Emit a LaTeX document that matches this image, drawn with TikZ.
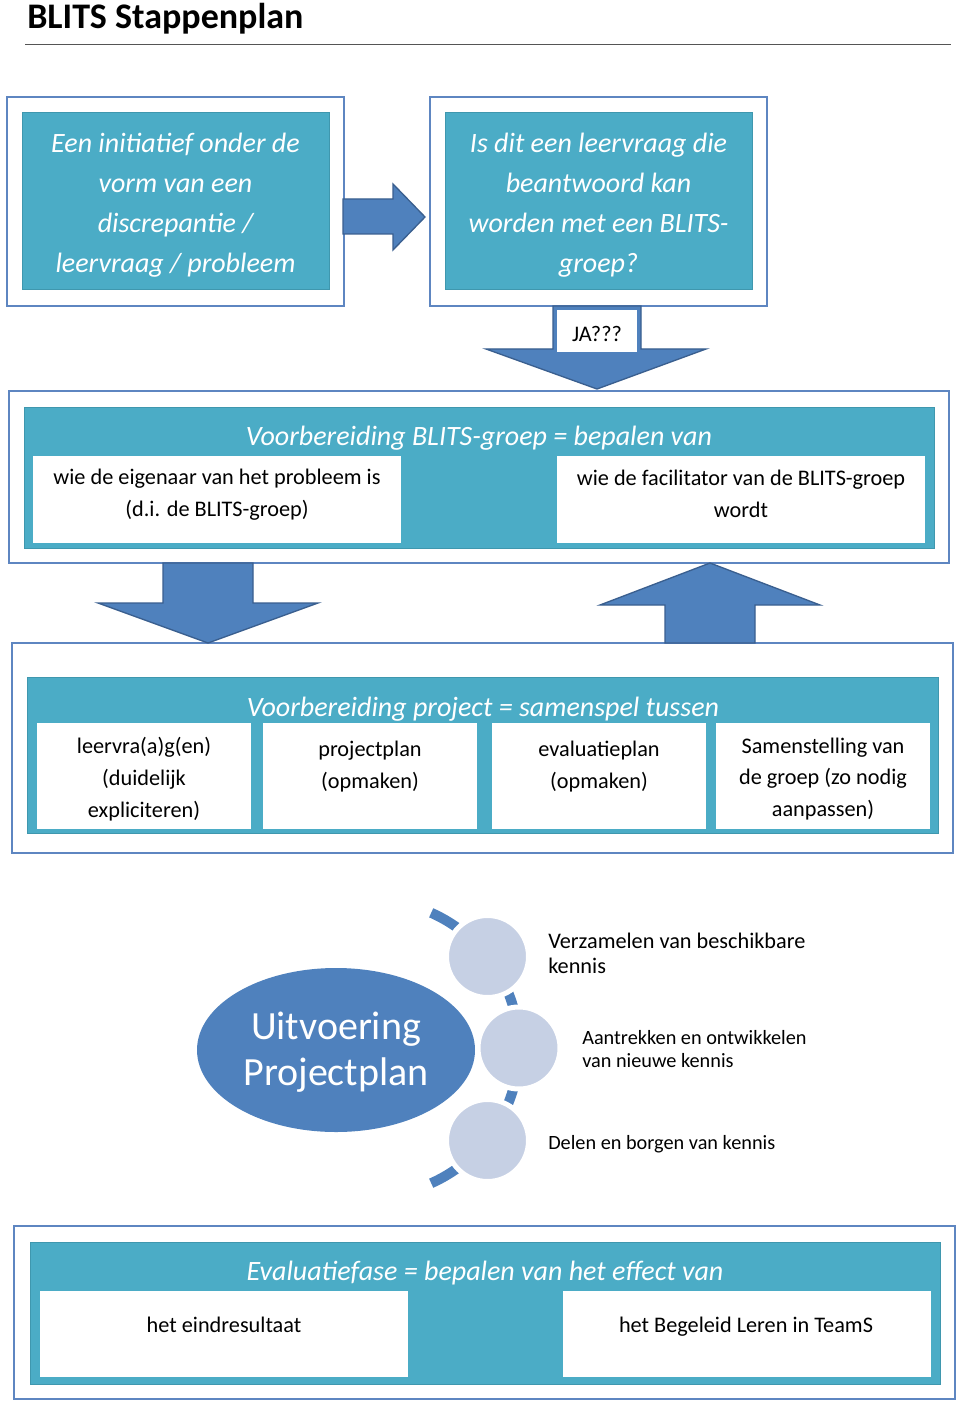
\documentclass[tikz,border=0pt]{standalone}
\usepackage{fontspec}
\setmainfont{Carlito}
\usetikzlibrary{shapes.geometric}
\definecolor{tealc}{HTML}{4BACC6}
\definecolor{tealedge}{HTML}{3F97AE}
\definecolor{frameblue}{HTML}{5E86C1}
\definecolor{arrowblue}{HTML}{4F81BD}
\definecolor{arrowedge}{HTML}{3A5F8F}
\definecolor{circfill}{HTML}{C6D0E4}
\definecolor{rulegray}{HTML}{555555}
\newcommand\rbox[6]{\node[#6, inner sep=0pt, minimum width={(#4-#2)*0.75pt}, minimum height={(#5-#3)*0.75pt}] (#1) at ({(#2+#4)/2},{(#3+#5)/2}) {};}
\begin{document}
\begin{tikzpicture}[x=0.75pt,y=-0.75pt,
  frame/.style={draw=frameblue, line width=1.5pt, fill=white},
  tealbox/.style={fill=tealc, draw=tealedge, line width=0.75pt},
  wbox/.style={fill=white, draw=none},
  bigit/.style={text=white, font=\itshape\fontsize{21}{30}\selectfont, align=center, inner sep=0pt},
  boxtxt/.style={text=black, font=\fontsize{16.7}{23.8}\selectfont, align=center, inner sep=0pt},
  sidetxt/.style={text=black, anchor=west, align=left, inner sep=0pt},
  blockarrow/.style={fill=arrowblue, draw=arrowedge, line width=1pt, line join=miter},
  circ/.style={circle, fill=circfill, draw=white, line width=3.75pt, minimum size=61.5pt, inner sep=0pt},
  arcline/.style={draw=arrowblue, line width=7.5pt, line cap=butt}]
\useasboundingbox (0,0) rectangle (960,1408);
\fill[white] (0,0) rectangle (960,1408);

% title
\node[anchor=west, inner sep=0pt, font=\bfseries\fontsize{27}{32}\selectfont] (title) at (27,18.5) {BLITS Stappenplan};
\coordinate (ruleL) at (25,45);
\coordinate (ruleR) at (951,45);
\draw[rulegray, line width=0.75pt] (ruleL) -- (ruleR);

% top row
\rbox{f1}{7}{97}{344}{306}{frame}
\rbox{t1}{22}{113}{329}{290}{tealbox}
\rbox{f2}{430}{97}{767}{306}{frame}
\rbox{t2}{445}{113}{752}{290}{tealbox}
\node[bigit] (q1) at (175.5,205) {Een initiatief onder de\\vorm van een\\discrepantie /\\leervraag / probleem};
\node[bigit] (q2) at (598.5,205) {Is dit een leervraag die\\beantwoord kan\\worden met een BLITS-\\groep?};

% right arrow
\draw[blockarrow] (343,199) -- (393,199) -- (393,184) -- (425,217) -- (393,250) -- (393,234) -- (343,234) -- cycle;

% section 2
\rbox{f3}{9}{391}{949}{563}{frame}
\rbox{t3}{24}{407}{934}{548}{tealbox}
\node[bigit] (h3) at (479,438) {Voorbereiding BLITS-groep = bepalen van};
\rbox{w31}{33}{456}{401}{543}{wbox}
\rbox{w32}{557}{456}{925}{543}{wbox}
\node[boxtxt] (x31) at (217,495) {wie de eigenaar van het probleem is\\(d.i. de BLITS-groep)};
\node[boxtxt] (x32) at (741,493.5) {wie de facilitator van de BLITS-groep\\wordt};

% JA arrow
\draw[blockarrow] (553,306) -- (641,306) -- (641,349) -- (706,349) -- (597,389) -- (486,349) -- (553,349) -- cycle;
\rbox{ja}{557}{310}{637}{352}{wbox}
\node[boxtxt] (jat) at (597,334) {JA???};

% section 3
\rbox{f4}{12}{643}{953}{853}{frame}
\rbox{t4}{27}{677}{938}{833}{tealbox}
\node[bigit] (h4) at (483,709) {Voorbereiding project = samenspel tussen};
\rbox{w41}{37}{723}{251}{829}{wbox}
\rbox{w42}{263}{723}{477}{829}{wbox}
\rbox{w43}{492}{723}{706}{829}{wbox}
\rbox{w44}{716}{723}{930}{829}{wbox}
\node[boxtxt] (x41) at (144,779) {leervra(a)g(en)\\(duidelijk\\expliciteren)};
\node[boxtxt] (x42) at (370,766.5) {projectplan\\(opmaken)};
\node[boxtxt] (x43) at (599,766.5) {evaluatieplan\\(opmaken)};
\node[boxtxt] (x44) at (823,779) {Samenstelling van\\de groep (zo nodig\\aanpassen)};

% arrows between section 2 and 3
\draw[blockarrow] (163,563) -- (253,563) -- (253,603) -- (318,603) -- (208,643) -- (98,603) -- (163,603) -- cycle;
\draw[blockarrow] (665,643) -- (755,643) -- (755,605) -- (820,605) -- (710,563) -- (600,605) -- (665,605) -- cycle;

% section 4
\coordinate (arcc) at (371,1048);
\draw[arcline] (arcc) ++(-66:148) arc[start angle=-66, end angle=66, radius=148];
\node[ellipse, fill=arrowblue, draw=none, minimum width=208.5pt, minimum height=123pt, inner sep=0pt] (ell) at (336,1050) {};
\node[text=white, align=center, inner sep=0pt, font=\fontsize{30}{34}\selectfont] (ellt) at (336,1052) {Uitvoering\\Projectplan};
\node[circ] (c1) at (487.5,956.5) {};
\node[circ] (c2) at (519,1048) {};
\node[circ] (c3) at (487.5,1140.5) {};
\node[sidetxt, font=\fontsize{16.7}{18.8}\selectfont] (s1) at (548,953) {Verzamelen van beschikbare\\kennis};
\node[sidetxt, font=\fontsize{15.2}{17.2}\selectfont] (s2) at (582,1049) {Aantrekken en ontwikkelen\\van nieuwe kennis};
\node[sidetxt, font=\fontsize{15.2}{17.2}\selectfont] (s3) at (548,1144) {Delen en borgen van kennis};

% section 5
\rbox{f5}{14}{1226}{955}{1399}{frame}
\rbox{t5}{30}{1242}{940}{1384}{tealbox}
\node[bigit] (h5) at (485,1273) {Evaluatiefase = bepalen van het effect van};
\rbox{w51}{40}{1291}{408}{1377}{wbox}
\rbox{w52}{563}{1291}{931}{1377}{wbox}
\node[boxtxt] (x51) at (224,1326) {\strut het eindresultaat};
\node[boxtxt] (x52) at (746,1326) {\strut het Begeleid Leren in TeamS};
\end{tikzpicture}
\end{document}
